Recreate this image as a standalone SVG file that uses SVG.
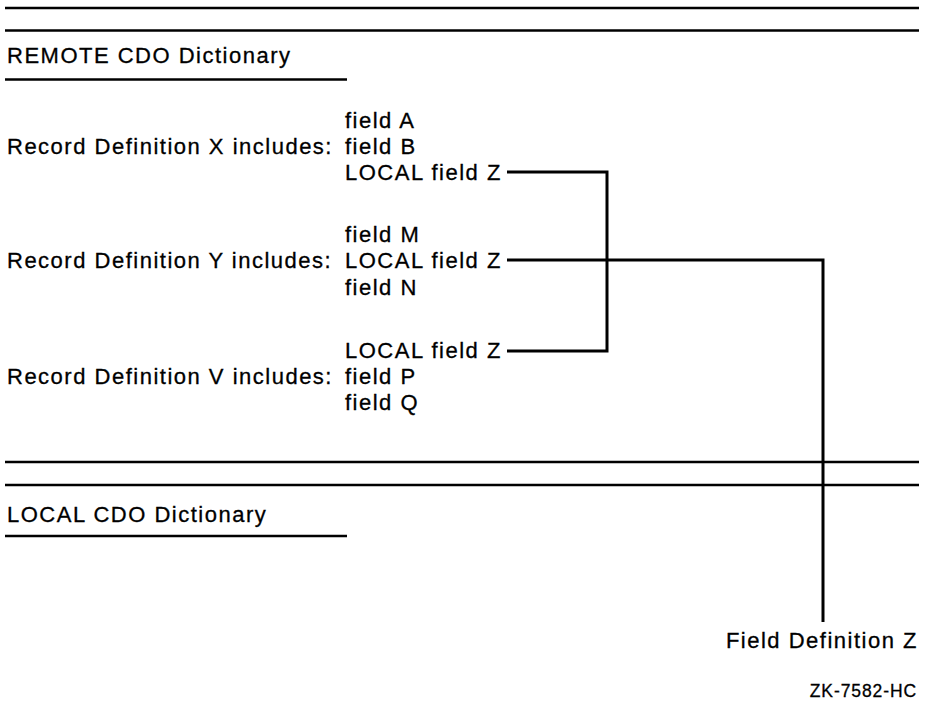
<svg xmlns="http://www.w3.org/2000/svg" width="926" height="703" viewBox="0 0 926 703">
<style>
  text { font-family: "Liberation Sans", Arial, sans-serif; font-size: 22px; letter-spacing: 1.5px; fill: #000; stroke: #000; stroke-width: 0.3px; }
  .small { font-size: 17.5px; letter-spacing: 0.9px; }
  .rule { stroke: #000; stroke-width: 2.4; fill: none; }
  .conn { stroke: #000; stroke-width: 3; fill: none; stroke-linejoin: miter; }
  .end { text-anchor: end; }
</style>
<rect width="926" height="703" fill="#fff"/>
<g id="rules">
  <line class="rule" x1="5" y1="8" x2="919" y2="8"/>
  <line class="rule" x1="5" y1="30.5" x2="919" y2="30.5"/>
  <line class="rule" x1="5" y1="79.5" x2="347" y2="79.5"/>
  <line class="rule" x1="5" y1="462" x2="919" y2="462"/>
  <line class="rule" x1="5" y1="485" x2="919" y2="485"/>
  <line class="rule" x1="5" y1="536" x2="347" y2="536"/>
</g>
<g id="remote-title"><text x="7" y="63">REMOTE CDO Dictionary</text></g>
<g id="record-x">
  <text x="7" y="154">Record Definition X includes:</text>
  <text x="345" y="128">field A</text>
  <text x="345" y="154">field B</text>
  <text x="345" y="180">LOCAL field Z</text>
</g>
<g id="record-y">
  <text x="7" y="268">Record Definition Y includes:</text>
  <text x="345" y="242">field M</text>
  <text x="345" y="268">LOCAL field Z</text>
  <text x="345" y="295">field N</text>
</g>
<g id="record-v">
  <text x="7" y="384">Record Definition V includes:</text>
  <text x="345" y="358">LOCAL field Z</text>
  <text x="345" y="384">field P</text>
  <text x="345" y="410">field Q</text>
</g>
<g id="local-title"><text x="7" y="522">LOCAL CDO Dictionary</text></g>
<g id="field-def-z"><text class="end" x="918" y="648">Field Definition Z</text></g>
<g id="figure-id"><text class="small end" x="917" y="697">ZK-7582-HC</text></g>
<g id="connectors">
  <polyline class="conn" points="507,172 607,172 607,351 507,351"/>
  <polyline class="conn" points="507,260 823,260 823,622"/>
</g>
</svg>
